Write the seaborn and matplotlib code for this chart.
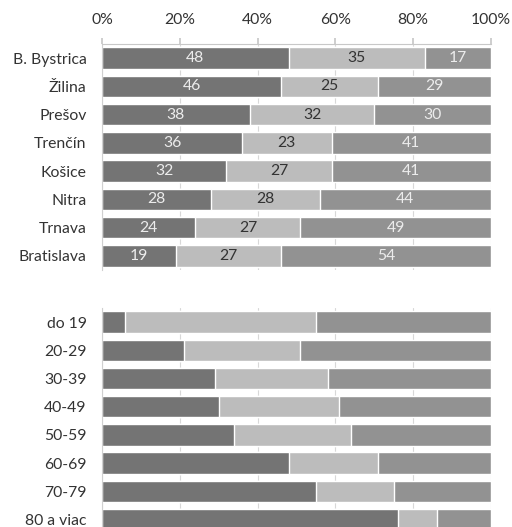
import numpy as np
import pandas as pd
import matplotlib
matplotlib.use('Agg')
import matplotlib.pyplot as plt
import seaborn as sns

sns.set_theme(style='white')
plt.rcParams['font.family'] = ['Lato', 'DejaVu Sans']

# data
regions = ['B. Bystrica', 'Žilina', 'Prešov', 'Trenčín', 'Košice',
           'Nitra', 'Trnava', 'Bratislava']
reg_a = [48, 46, 38, 36, 32, 28, 24, 19]
reg_b = [35, 25, 32, 23, 27, 28, 27, 27]
reg_c = [17, 29, 30, 41, 41, 44, 49, 54]

ages = ['do 19', '20-29', '30-39', '40-49', '50-59', '60-69', '70-79',
        '80 a viac']
age_a = [6, 21, 29, 30, 34, 48, 55, 76]
age_b = [49, 30, 29, 31, 30, 23, 20, 10]
age_c = [45, 49, 42, 39, 36, 29, 25, 14]

tick_vals = [0, 20, 40, 60, 80, 100]
tick_labels = ['0%', '20%', '40%', '60%', '80%', '100%']

DARK = '#747474'
LIGHT = '#bcbcbc'
MID = '#929292'
FS = 11.3


def stacked(ax, cats, a, b, c, labels=False):
    """
    Draw a 100% stacked horizontal bar chart by overlaying cumulative bars.
    """
    df = pd.DataFrame({'cat': cats, 'a': a, 'b': b, 'c': c})
    df['ab'] = df['a'] + df['b']
    df['abc'] = df['ab'] + df['c']
    for col, color in [('abc', MID), ('ab', LIGHT), ('a', DARK)]:
        sns.barplot(data=df, x=col, y='cat', color=color, width=0.76,
                    saturation=1, ax=ax, order=cats)
    if labels:
        for i, row in df.iterrows():
            ax.text(row['a'] / 2, i, str(row['a']), ha='center',
                    va='center', color='#ececec', fontsize=FS)
            ax.text(row['a'] + row['b'] / 2, i, str(row['b']), ha='center',
                    va='center', color='#333333', fontsize=FS)
            ax.text(row['ab'] + row['c'] / 2, i, str(row['c']), ha='center',
                    va='center', color='#ececec', fontsize=FS)
    ax.set_xlim(0, 100)
    ax.set_ylim(len(cats) - 0.5, -0.5)
    ax.set_xticks(tick_vals)
    ax.set_xlabel('')
    ax.set_ylabel('')
    ax.grid(axis='x', color='#d8d8d8', linewidth=0.8)
    ax.set_axisbelow(True)
    for s in ['right', 'bottom']:
        ax.spines[s].set_visible(False)
    ax.spines['left'].set_color('#d0d0d0')
    ax.spines['left'].set_linewidth(0.8)
    ax.set_yticks(np.arange(len(cats)))
    ax.set_yticklabels(cats, fontsize=FS, color='#333333')
    ax.set_yticks(np.arange(len(cats) + 1) - 0.5, minor=True)
    ax.tick_params(axis='y', which='major', length=0, pad=11)
    ax.tick_params(axis='y', which='minor', length=3, color='#c8c8c8',
                   width=0.8)


fig = plt.figure(figsize=(5.12, 5.27), dpi=100)
ax1 = fig.add_axes([102 / 512, 1 - 270 / 527, 389 / 512, 226 / 527])
ax2 = fig.add_axes([102 / 512, 1 - 533.5 / 527, 389 / 512, 225.5 / 527])

stacked(ax1, regions, reg_a, reg_b, reg_c, labels=True)
stacked(ax2, ages, age_a, age_b, age_c)

ax1.xaxis.tick_top()
ax1.set_xticklabels(tick_labels, fontsize=FS, color='#333333')
ax1.tick_params(axis='x', length=4, color='#c8c8c8', pad=8)
ax1.spines['top'].set_color('#c8c8c8')
ax1.spines['top'].set_linewidth(0.8)

ax2.set_xticklabels([])
ax2.tick_params(axis='x', length=0)
ax2.spines['top'].set_visible(False)

fig.savefig('out.png', dpi=100)
